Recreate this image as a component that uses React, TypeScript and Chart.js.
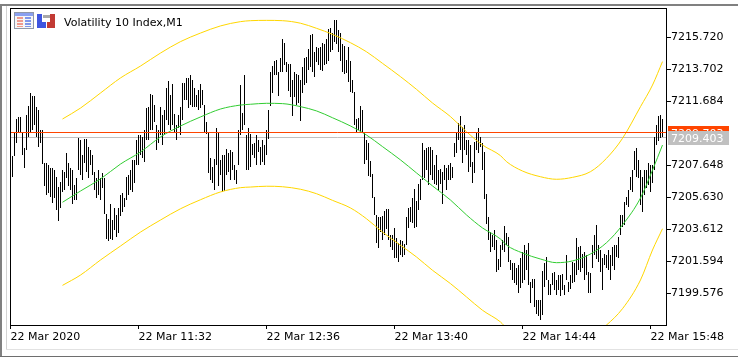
import React, { useEffect, useRef } from "react";
import { Chart, registerables } from "chart.js";

Chart.register(...registerables);

const FONT = "'DejaVu Sans'";
const title = "Volatility 10 Index,M1";
const priceTicks = [7215.72, 7213.702, 7211.684, 7207.648, 7205.63, 7203.612, 7201.594, 7199.576];
const timeTicks = [0, 64, 128, 192, 256, 320];
const timeLabels = ["22 Mar 2020", "22 Mar 11:32", "22 Mar 12:36", "22 Mar 13:40", "22 Mar 14:44", "22 Mar 15:48"];
const bidLabel = 7209.403;
const askLabel = 7209.703;
const bidLine = 7209.413;
const askLine = 7209.729;

const highs = [
  7209.57,7208.25,7209.70,7210.58,7210.71,7210.71,7209.76,7208.75,7210.83,7211.40,
  7212.22,7212.03,7212.03,7211.34,7211.15,7209.89,7209.89,7207.81,7207.81,7207.68,
  7207.49,7207.49,7207.36,7206.92,7206.29,7206.61,7207.36,7207.24,7208.44,7207.81,
  7207.49,7207.36,7206.42,7206.86,7209.38,7209.26,7208.31,7209.32,7209.32,7208.81,
  7208.63,7208.31,7207.24,7206.86,7207.36,7206.86,7207.18,7206.86,7204.59,7204.28,
  7205.22,7204.21,7204.97,7204.53,7204.97,7205.79,7205.91,7205.60,7206.92,7207.05,
  7207.36,7208.00,7208.00,7209.26,7209.57,7209.57,7209.45,7209.89,7211.27,7211.34,
  7212.16,7212.10,7211.46,7210.20,7209.89,7211.34,7210.83,7211.15,7212.54,7212.98,
  7212.10,7212.79,7210.90,7210.20,7210.83,7211.34,7212.85,7212.85,7213.17,7213.17,
  7213.36,7213.04,7212.54,7212.10,7212.41,7212.79,7212.41,7211.46,7210.39,7209.70,
  7208.12,7207.55,7208.06,7210.01,7209.70,7208.00,7208.31,7208.31,7208.69,7208.44,
  7208.63,7208.50,7207.68,7207.36,7209.89,7212.72,7210.96,7213.36,7209.57,7210.01,
  7209.64,7209.00,7209.07,7209.57,7209.26,7208.81,7209.26,7208.94,7209.89,7211.15,
  7213.54,7213.92,7214.24,7214.30,7213.54,7214.43,7215.63,7215.37,7214.18,7214.05,
  7214.05,7213.04,7213.54,7213.42,7213.36,7213.04,7213.86,7214.43,7214.49,7214.99,
  7215.88,7215.94,7214.81,7215.12,7215.06,7215.12,7215.37,7215.31,7215.63,7216.26,
  7216.32,7216.00,7216.82,7216.82,7216.19,7216.00,7215.31,7215.18,7214.30,7215.12,
  7214.24,7213.04,7212.29,7210.58,7210.64,7211.40,7211.15,7209.70,7209.26,7209.07,
  7207.93,7207.11,7205.66,7204.53,7204.40,7204.40,7204.46,7204.78,7204.90,7204.90,
  7203.27,7203.27,7203.71,7203.08,7202.76,7202.95,7202.89,7202.70,7204.40,7204.97,
  7205.03,7205.60,7206.17,7205.41,7206.48,7206.80,7209.07,7208.63,7208.75,7208.81,
  7208.81,7208.63,7207.68,7208.31,7207.36,7207.43,7207.24,7207.68,7207.49,7207.68,
  7207.81,7207.55,7209.07,7209.70,7210.33,7210.77,7210.08,7210.20,7209.26,7209.26,
  7208.94,7207.87,7209.13,7209.76,7210.01,7209.45,7209.07,7208.50,7205.85,7204.40,
  7203.45,7203.27,7203.58,7202.95,7201.75,7202.63,7202.95,7203.83,7203.39,7203.14,
  7201.69,7201.50,7201.50,7201.19,7201.37,7201.82,7202.19,7202.63,7202.32,7202.76,
  7200.30,7200.49,7200.49,7199.17,7199.17,7199.17,7200.99,7201.50,7201.88,7200.43,
  7200.17,7200.87,7200.93,7200.43,7200.74,7200.74,7200.81,7200.11,7202.00,7200.30,
  7200.74,7201.56,7201.50,7203.08,7202.51,7202.57,7202.07,7202.19,7202.00,7200.93,
  7200.87,7202.63,7203.27,7203.90,7202.63,7202.32,7201.82,7202.07,7202.00,7202.32,
  7202.00,7202.51,7202.63,7202.63,7203.14,7204.53,7204.53,7205.35,7205.66,7206.10,
  7206.92,7207.36,7208.56,7208.75,7208.00,7207.36,7206.92,7207.36,7207.36,7207.81,
  7207.68,7207.68,7209.45,7210.20,7210.77,7210.83,7210.58,
];

const lows = [
  7208.63,7206.92,7208.25,7209.07,7209.70,7209.76,7208.31,7207.49,7208.63,7209.45,
  7209.76,7209.89,7210.20,7209.45,7208.81,7209.07,7207.74,7206.36,7205.79,7205.91,
  7205.66,7205.28,7205.60,7204.84,7204.15,7204.97,7205.98,7206.10,7206.86,7206.36,
  7206.10,7205.22,7205.47,7205.47,7207.36,7207.05,7206.73,7207.81,7207.24,7206.86,
  7207.68,7207.05,7206.10,7205.60,7205.79,7205.47,7206.23,7204.59,7203.01,7202.89,
  7203.01,7202.95,7203.58,7203.14,7203.39,7204.46,7204.72,7205.03,7205.47,7205.79,
  7206.10,7205.98,7206.55,7207.68,7207.68,7208.31,7208.12,7207.87,7209.26,7209.26,
  7209.89,7209.89,7210.39,7208.63,7209.07,7209.57,7208.94,7209.57,7210.52,7210.20,
  7209.89,7210.20,7209.76,7209.26,7210.01,7209.57,7210.52,7211.78,7211.78,7211.27,
  7211.46,7211.34,7211.34,7211.34,7211.15,7211.27,7211.46,7209.70,7209.63,7207.18,
  7206.73,7206.55,7206.10,7207.68,7206.36,7207.05,7205.98,7206.04,7207.05,7207.24,
  7206.73,7207.36,7206.73,7206.48,7207.68,7209.57,7209.89,7210.20,7207.36,7207.36,
  7207.55,7208.31,7208.12,7207.68,7208.50,7207.68,7207.87,7207.68,7208.31,7209.32,
  7211.40,7212.22,7213.36,7213.36,7212.03,7213.54,7213.54,7213.99,7213.54,7212.35,
  7211.97,7210.77,7211.97,7211.46,7211.59,7210.45,7212.22,7212.72,7212.85,7213.67,
  7213.86,7213.54,7213.23,7214.18,7213.99,7213.67,7213.61,7213.99,7214.05,7214.24,
  7214.81,7214.93,7215.44,7215.31,7214.81,7214.24,7213.54,7213.42,7213.48,7212.91,
  7212.29,7212.22,7210.20,7209.70,7209.89,7209.76,7209.70,7207.74,7208.00,7206.99,
  7206.92,7205.60,7204.53,7202.76,7202.45,7203.45,7202.95,7203.27,7203.64,7202.95,
  7202.51,7202.32,7201.82,7201.82,7201.56,7202.00,7201.88,7202.00,7202.63,7203.71,
  7204.09,7204.02,7203.71,7203.77,7204.84,7205.47,7206.73,7206.86,7207.36,7206.42,
  7207.05,7206.73,7206.48,7206.42,7206.10,7206.48,7205.22,7206.73,7206.10,7206.73,
  7206.73,7206.86,7208.19,7208.44,7209.26,7208.63,7207.81,7208.63,7208.31,7207.24,
  7207.55,7206.55,7207.18,7208.63,7208.44,7208.81,7207.36,7205.54,7203.96,7202.95,
  7202.19,7202.51,7202.32,7200.93,7201.06,7201.25,7202.32,7202.19,7202.63,7201.56,
  7201.06,7200.43,7200.24,7200.11,7199.61,7199.92,7200.24,7200.43,7201.06,7200.11,
  7198.98,7199.92,7198.73,7198.29,7198.16,7197.91,7198.22,7199.99,7200.43,7199.48,
  7199.48,7200.11,7199.80,7199.48,7199.80,7199.42,7199.80,7199.48,7200.43,7199.67,
  7199.86,7200.24,7200.30,7200.74,7201.06,7200.93,7201.19,7200.43,7200.74,7199.61,
  7199.61,7201.19,7202.00,7201.75,7201.56,7200.93,7199.80,7201.37,7201.19,7201.06,
  7200.43,7201.31,7201.06,7201.88,7201.82,7203.27,7203.77,7203.90,7205.16,7205.03,
  7206.10,7205.98,7207.36,7206.92,7206.86,7205.16,7204.72,7205.79,7206.23,7206.42,
  7205.98,7206.55,7207.36,7208.94,7209.19,7209.38,7209.45,
];

const channelBars = [26,35,45,55,65,75,85,95,105,115,120,128,136,145,153,161,170,178,186,195,203,211,220,228,236,245,248,256,265,273,281,290,298,306,315,321,326];
const middleBand = [7205.33,7206.04,7206.80,7207.74,7208.50,7209.45,7210.14,7210.71,7211.21,7211.46,7211.51,7211.57,7211.55,7211.36,7211.09,7210.66,7210.14,7209.57,7208.84,7208.00,7207.18,7206.36,7205.47,7204.53,7203.71,7203.01,7202.63,7202.13,7201.75,7201.52,7201.63,7202.07,7202.78,7203.90,7205.60,7207.36,7208.94];
const upperBand = [7210.58,7211.27,7212.22,7213.17,7213.92,7214.74,7215.46,7216.00,7216.45,7216.72,7216.78,7216.80,7216.78,7216.62,7216.30,7215.92,7215.39,7214.82,7214.09,7213.25,7212.45,7211.59,7210.73,7209.78,7208.94,7208.27,7207.89,7207.30,7206.94,7206.78,7206.90,7207.26,7208.10,7209.36,7211.36,7212.72,7214.20];
const lowerBand = [7200.09,7200.74,7201.69,7202.57,7203.45,7204.21,7204.92,7205.49,7205.98,7206.25,7206.29,7206.34,7206.31,7206.15,7205.87,7205.45,7204.97,7204.29,7203.45,7202.62,7201.88,7201.04,7200.20,7199.36,7198.52,7197.78,7197.40,7196.96,7196.58,7196.27,7196.33,7196.83,7197.59,7198.62,7200.43,7202.32,7203.66];

const windowDecor = {
  id: "windowDecor",
  beforeDraw(chart: any) {
    const c = chart.ctx;
    c.save();
    c.fillStyle = "#ffffff";
    c.fillRect(0, 0, 738, 357);
    c.fillStyle = "#808080";
    c.fillRect(0, 4, 738, 2);
    c.fillRect(0, 4, 2, 353);
    c.fillStyle = "#6e6e6e";
    c.fillRect(0, 356, 738, 1);
    c.fillStyle = "#d4d4d4";
    c.fillRect(6, 6, 1, 344);
    c.fillStyle = "#e2e2e2";
    c.fillRect(6, 349, 732, 1);
    c.restore();
  },
};

const overlay = {
  id: "overlay",
  afterDraw(chart: any) {
    const c = chart.ctx;
    const a = chart.chartArea;
    const y = chart.scales.y;
    c.save();
    c.strokeStyle = "#000000";
    c.lineWidth = 1;
    c.strokeRect(a.left + 0.5, a.top + 0.5, a.right - a.left - 1 + 1, a.bottom - a.top);

    // toolbar icons
    c.fillStyle = "#8f97a8";
    c.fillRect(14, 12, 20, 17);
    c.fillStyle = "#8aa0f0";
    c.fillRect(15, 13, 18, 3);
    c.fillStyle = "#f6f6f6";
    c.fillRect(15, 16, 18, 12);
    c.fillStyle = "#ef9a8e";
    c.fillRect(17, 17, 6, 2); c.fillRect(17, 20, 6, 2); c.fillRect(17, 23, 6, 2); c.fillRect(17, 26, 6, 1);
    c.fillStyle = "#7f96ea";
    c.fillRect(25, 17, 6, 2); c.fillRect(25, 20, 6, 2); c.fillRect(25, 23, 6, 2); c.fillRect(25, 26, 6, 1);
    c.fillStyle = "#3f55e0";
    c.fillRect(37, 14, 5, 14); c.fillRect(37, 22, 9, 6);
    c.fillStyle = "#c23a34";
    c.fillRect(50, 14, 5, 14); c.fillRect(47, 22, 8, 6);
    c.fillStyle = "#a8a8a8";
    c.fillRect(43, 15, 7, 3);

    c.fillStyle = "#000000";
    c.font = `11px ${FONT}`;
    c.textAlign = "left";
    c.textBaseline = "alphabetic";
    c.fillText(title, 64, 26);

    // current price labels
    const askY = Math.round(y.getPixelForValue(askLine));
    const bidY = Math.round(y.getPixelForValue(bidLine));
    c.fillStyle = "#ff4500";
    c.fillRect(668, askY - 7, 61, 14);
    c.fillStyle = "#ffffff";
    c.fillText(askLabel.toFixed(3), 671, askY + 4);
    c.fillStyle = "#c0c0c0";
    c.fillRect(668, bidY - 7, 61, 14);
    c.fillStyle = "#ffffff";
    c.fillText(bidLabel.toFixed(3), 671, bidY + 4);
    c.restore();
  },
};

const band = (values: number[], color: string, order: number) => ({
  type: "line",
  data: values.map((v, i) => ({ x: channelBars[i], y: v })),
  borderColor: color,
  borderWidth: 1,
  pointRadius: 0,
  cubicInterpolationMode: "monotone",
  order,
});

const level = (price: number, color: string, order: number) => ({
  type: "line",
  data: [{ x: -1, y: price }, { x: 328, y: price }],
  borderColor: color,
  borderWidth: 1,
  pointRadius: 0,
  order,
});

export default function App() {
  const ref = useRef<HTMLCanvasElement>(null);
  useEffect(() => {
    const chart = new Chart(ref.current as HTMLCanvasElement, {
      type: "bar",
      data: {
        datasets: [
          level(askLine, "#ff4500", 0),
          band(upperBand, "#ffd700", 1),
          band(middleBand, "#32cd32", 1),
          band(lowerBand, "#ffd700", 1),
          {
            type: "bar",
            data: highs.map((h, i) => ({ x: i, y: [lows[i], h] })),
            backgroundColor: "#000000",
            borderWidth: 0,
            barThickness: 1,
            inflateAmount: 0,
            grouped: false,
            order: 2,
          },
          level(bidLine, "#c0c0c0", 3),
        ] as any,
      },
      options: {
        animation: false,
        responsive: false,
        maintainAspectRatio: false,
        layout: { padding: { left: 10, top: 8, right: 0, bottom: 0 } },
        plugins: { legend: { display: false }, title: { display: false }, tooltip: { enabled: false } },
        scales: {
          x: {
            type: "linear",
            offset: false,
            min: -0.25,
            max: 327.75,
            grid: { drawOnChartArea: false, drawTicks: true, tickLength: 4, color: "#000000", offset: false },
            border: { display: true, color: "#000000", width: 1 },
            afterBuildTicks(s: any) { s.ticks = timeTicks.map((value) => ({ value })); },
            afterFit(s: any) { s.height = 32; },
            ticks: {
              autoSkip: false,
              maxRotation: 0,
              minRotation: 0,
              align: "start",
              padding: 2,
              color: "#000000",
              font: { family: FONT, size: 11 },
              callback: (v: any) => timeLabels[timeTicks.indexOf(Number(v))],
            },
          },
          y: {
            type: "linear",
            position: "right",
            min: 7197.59,
            max: 7217.58,
            grid: { drawOnChartArea: false, drawTicks: true, tickLength: 5, color: "#000000" },
            border: { display: true, color: "#000000", width: 1 },
            afterBuildTicks(s: any) { s.ticks = priceTicks.map((value) => ({ value })); },
            afterFit(s: any) { s.width = 72; },
            ticks: {
              autoSkip: false,
              padding: 0,
              color: "#000000",
              font: { family: FONT, size: 11 },
              callback: (v: any) => Number(v).toFixed(3),
            },
          },
        },
      } as any,
      plugins: [windowDecor, overlay],
    });
    return () => chart.destroy();
  }, []);
  return (
    <canvas
      ref={ref}
      width={738}
      height={357}
      style={{ position: "fixed", left: 0, top: 0, width: 738, height: 357, display: "block" }}
    />
  );
}
